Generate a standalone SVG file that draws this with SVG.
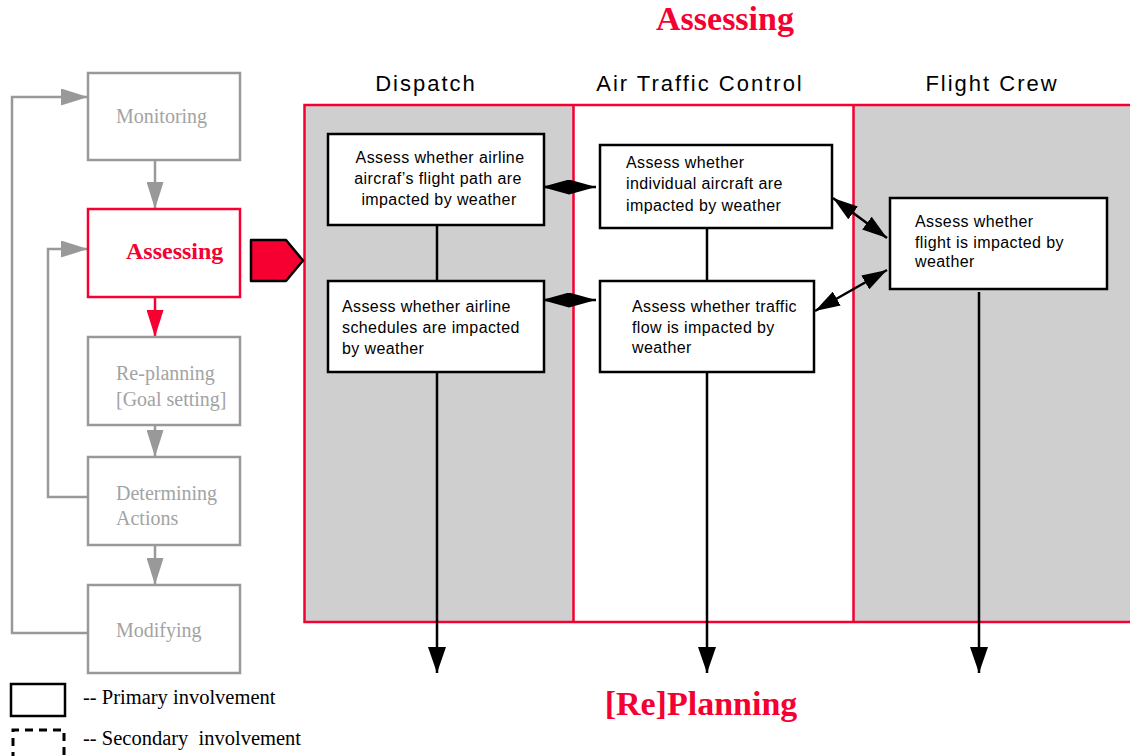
<svg xmlns="http://www.w3.org/2000/svg" width="1130" height="756" viewBox="0 0 1130 756">
  <style>
    .title { font-family: "Liberation Serif", serif; font-weight: bold; fill: #f50031; font-size: 34px; text-anchor: middle; }
    .lane { font-family: "Liberation Sans", Arial, sans-serif; font-size: 22px; fill: #000; text-anchor: middle; letter-spacing: 2px; }
    .step { fill: #fff; stroke: #999; stroke-width: 2.5; }
    .stepTxt { font-family: "Liberation Serif", serif; font-size: 20px; fill: #a3a3a3; }
    .task { fill: #fff; stroke: #000; stroke-width: 2.5; }
    .taskTxt { font-family: "Liberation Sans", Arial, sans-serif; font-size: 16px; fill: #000; letter-spacing: 0.4px; }
    .legend { font-family: "Liberation Serif", serif; font-size: 20.5px; fill: #000; }
    .flow { stroke: #999; stroke-width: 2.5; fill: none; }
    .link { stroke: #000; stroke-width: 2.5; fill: none; }
  </style>
  <defs>
    <marker id="grayHead" viewBox="0 0 27 17" refX="27" refY="8.5" markerWidth="27" markerHeight="17" markerUnits="userSpaceOnUse" orient="auto">
      <path d="M0,0 L27,8.5 L0,17 z" fill="#999"/>
    </marker>
    <marker id="redHead" viewBox="0 0 27 17" refX="27" refY="8.5" markerWidth="27" markerHeight="17" markerUnits="userSpaceOnUse" orient="auto">
      <path d="M0,0 L27,8.5 L0,17 z" fill="#f50031"/>
    </marker>
    <marker id="downHead" viewBox="0 0 26 18" refX="26" refY="9" markerWidth="26" markerHeight="18" markerUnits="userSpaceOnUse" orient="auto">
      <path d="M0,0 L26,9 L0,18 z" fill="#000"/>
    </marker>
    <marker id="wideHead" viewBox="0 0 27 15" refX="27" refY="7.5" markerWidth="27" markerHeight="15" markerUnits="userSpaceOnUse" orient="auto-start-reverse">
      <path d="M0,0 L27,7.5 L0,15 z" fill="#000"/>
    </marker>
    <marker id="slimHead" viewBox="0 0 25 16" refX="25" refY="8" markerWidth="25" markerHeight="16" markerUnits="userSpaceOnUse" orient="auto-start-reverse">
      <path d="M0,0 L25,8 L0,16 z" fill="#000"/>
    </marker>
  </defs>

  <rect width="1130" height="756" fill="#fff"/>

  <!-- headings -->
  <text class="title" x="725" y="30">Assessing</text>
  <text class="title" x="701" y="715">[Re]Planning</text>

  <!-- swim lanes -->
  <g id="lanes">
    <rect x="304.5" y="105" width="269" height="517" fill="#cfcfcf"/>
    <rect x="573.5" y="105" width="280" height="517" fill="#fff"/>
    <rect x="853.5" y="105" width="280" height="517" fill="#cfcfcf"/>
    <path d="M1132,105 H304.5 V622 H1132 M573.5,105 V622 M853.5,105 V622" fill="none" stroke="#f50031" stroke-width="2.5"/>
    <text class="lane" x="426" y="91">Dispatch</text>
    <text class="lane" x="700" y="91">Air Traffic Control</text>
    <text class="lane" x="992" y="91">Flight Crew</text>
  </g>

  <!-- connectors -->
  <g id="connectors">
    <!-- cognitive cycle -->
    <line class="flow" x1="155" y1="161" x2="155" y2="209" marker-end="url(#grayHead)"/>
    <line x1="155" y1="297" x2="155" y2="337" stroke="#f50031" stroke-width="2.5" marker-end="url(#redHead)"/>
    <line class="flow" x1="155" y1="425" x2="155" y2="457" marker-end="url(#grayHead)"/>
    <line class="flow" x1="155" y1="545" x2="155" y2="585" marker-end="url(#grayHead)"/>
    <polyline class="flow" points="88,633 12,633 12,97 88,97" marker-end="url(#grayHead)"/>
    <polyline class="flow" points="88,497 48,497 48,249 88,249" marker-end="url(#grayHead)"/>

    <!-- lane links -->
    <line class="link" x1="437" y1="225" x2="437" y2="281"/>
    <line class="link" x1="707" y1="228" x2="707" y2="281"/>
    <line class="link" x1="437" y1="372" x2="437" y2="673" marker-end="url(#downHead)"/>
    <line class="link" x1="707" y1="372" x2="707" y2="673" marker-end="url(#downHead)"/>
    <line class="link" x1="979" y1="292" x2="979" y2="673" marker-end="url(#downHead)"/>

    <line class="link" x1="542" y1="187" x2="596" y2="187" marker-start="url(#wideHead)" marker-end="url(#wideHead)"/>
    <line class="link" x1="542" y1="300" x2="596" y2="300" marker-start="url(#wideHead)" marker-end="url(#wideHead)"/>
    <line class="link" x1="833" y1="198" x2="887" y2="238" marker-start="url(#slimHead)" marker-end="url(#slimHead)"/>
    <line class="link" x1="815" y1="311" x2="887" y2="270" marker-start="url(#slimHead)" marker-end="url(#slimHead)"/>
  </g>

  <!-- cognitive cycle steps -->
  <g id="monitoring">
    <rect class="step" x="88" y="73" width="152" height="87"/>
    <text class="stepTxt" x="116" y="123">Monitoring</text>
  </g>
  <g id="assessing">
    <rect x="88" y="209" width="152" height="88" fill="#fff" stroke="#f50031" stroke-width="2.5"/>
    <text x="126" y="259" font-family="Liberation Serif, serif" font-weight="bold" font-size="24" fill="#f50031">Assessing</text>
  </g>
  <g id="replanning">
    <rect class="step" x="88" y="337" width="152" height="88"/>
    <text class="stepTxt" x="116" y="380">Re-planning</text>
    <text class="stepTxt" x="116" y="406">[Goal setting]</text>
  </g>
  <g id="determining">
    <rect class="step" x="88" y="457" width="152" height="88"/>
    <text class="stepTxt" x="116" y="500">Determining</text>
    <text class="stepTxt" x="116" y="525">Actions</text>
  </g>
  <g id="modifying">
    <rect class="step" x="88" y="585" width="152" height="88"/>
    <text class="stepTxt" x="116" y="637">Modifying</text>
  </g>

  <!-- pointer into the lanes -->
  <g id="pointer">
    <path d="M251,240 H286 L303,260.5 L286,281 H251 z" fill="#f50031" stroke="#000" stroke-width="2.5" stroke-linejoin="round"/>
  </g>

  <!-- Dispatch tasks -->
  <g id="dispatch-flightpath">
    <rect class="task" x="328" y="134" width="216" height="91"/>
    <text class="taskTxt" text-anchor="middle" x="440" y="163">Assess whether airline</text>
    <text class="taskTxt" text-anchor="middle" x="438" y="184">aircraf’s flight path are</text>
    <text class="taskTxt" text-anchor="middle" x="439" y="205">impacted by weather</text>
  </g>
  <g id="dispatch-schedules">
    <rect class="task" x="328" y="281" width="216" height="91"/>
    <text class="taskTxt" x="342" y="312">Assess whether airline</text>
    <text class="taskTxt" x="342" y="333">schedules are impacted</text>
    <text class="taskTxt" x="342" y="354">by weather</text>
  </g>

  <!-- ATC tasks -->
  <g id="atc-aircraft">
    <rect class="task" x="600" y="145" width="232" height="83"/>
    <text class="taskTxt" x="626" y="168">Assess whether</text>
    <text class="taskTxt" x="626" y="189">individual aircraft are</text>
    <text class="taskTxt" x="626" y="211">impacted by weather</text>
  </g>
  <g id="atc-traffic">
    <rect class="task" x="600" y="281" width="214" height="91"/>
    <text class="taskTxt" x="632" y="312">Assess whether traffic</text>
    <text class="taskTxt" x="632" y="333">flow is impacted by</text>
    <text class="taskTxt" x="632" y="353">weather</text>
  </g>

  <!-- Flight crew task -->
  <g id="crew-flight">
    <rect class="task" x="890" y="198" width="217" height="91"/>
    <text class="taskTxt" x="915" y="227">Assess whether</text>
    <text class="taskTxt" x="915" y="248">flight is impacted by</text>
    <text class="taskTxt" x="915" y="267">weather</text>
  </g>

  <!-- legend -->
  <g id="legend">
    <rect x="11" y="684" width="54" height="32" fill="none" stroke="#000" stroke-width="2.5"/>
    <text class="legend" x="83" y="704">-- Primary involvement</text>
    <path d="M13,760 V730 H64 V760" fill="none" stroke="#000" stroke-width="3" stroke-dasharray="8,6"/>
    <text class="legend" x="83" y="745" xml:space="preserve">-- Secondary  involvement</text>
  </g>
</svg>
